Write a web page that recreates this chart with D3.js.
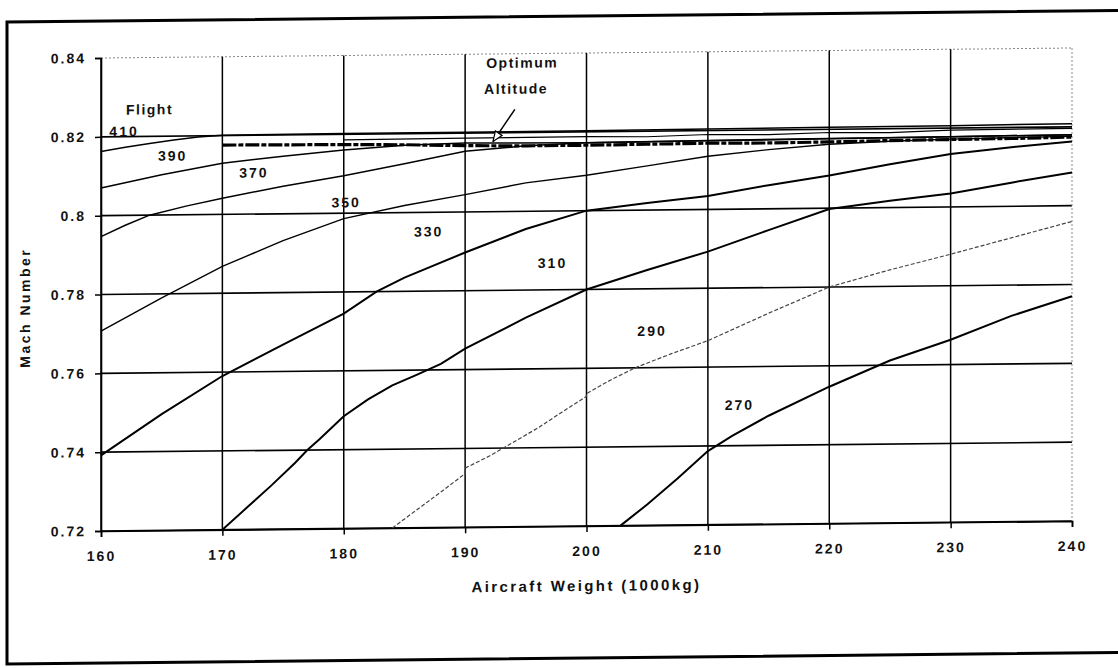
<!DOCTYPE html>
<html>
<head>
<meta charset="utf-8">
<script src="https://cdnjs.cloudflare.com/ajax/libs/d3/7.8.5/d3.min.js"></script>
<style>
  body { margin: 0; background: #fff; overflow: hidden; }
  text { font-family: "Liberation Sans", Arial, sans-serif; font-weight: bold; fill: #111; }
</style>
</head>
<body>
<div id="chart"></div>
<script>
// flight level curves, [aircraft weight (1000kg), mach]
var fl410 = [[160,0.8163],[162,0.8173],[164,0.8182],[166,0.819],[168,0.8197],[170,0.8201],[180,0.8202],[190,0.8202],[200,0.8203],[210,0.8204],[220,0.8205],[230,0.8206],[240,0.8208]];
var fl390 = [[160,0.807],[165,0.8102],[170,0.813],[175,0.8146],[180,0.816],[185,0.8171],[190,0.8175],[200,0.8172],[210,0.8174],[220,0.8176],[230,0.8178],[240,0.818]];
var fl370 = [[160,0.7947],[162,0.7975],[164,0.8],[167,0.8022],[170,0.8041],[175,0.807],[180,0.8095],[185,0.8124],[190,0.8154],[195,0.8166],[200,0.8172],[210,0.8175],[220,0.8177],[230,0.8178],[240,0.818]];
var fl350 = [[160,0.7707],[165,0.779],[170,0.7868],[175,0.7932],[180,0.7986],[185,0.8018],[190,0.8044],[195,0.8072],[200,0.809],[205,0.8112],[210,0.8135],[215,0.815],[220,0.8162],[225,0.8168],[230,0.8172],[240,0.8176]];
var fl330 = [[160,0.7392],[165,0.7495],[170,0.759],[175,0.7668],[180,0.7745],[182.7,0.78],[185,0.7835],[190,0.7897],[195,0.7955],[200,0.8],[205,0.8018],[210,0.8034],[215,0.806],[220,0.8083],[225,0.811],[230,0.8134],[235,0.815],[240,0.8163]];
var fl310 = [[170,0.72],[172,0.7255],[174,0.731],[176,0.7368],[177,0.74],[178,0.7427],[180,0.7485],[182,0.7527],[184,0.7562],[186,0.7588],[188,0.7615],[190,0.7653],[195,0.773],[200,0.78],[205,0.7848],[210,0.7893],[215,0.7946],[220,0.7998],[225,0.8017],[230,0.8034],[235,0.806],[240,0.8084]];
var fl290 = [[184,0.72],[186,0.7245],[188,0.729],[190,0.7336],[190,0.735],[192,0.738],[194,0.7415],[196,0.745],[198,0.749],[200,0.7529],[200,0.7536],[202,0.757],[204,0.76],[207,0.7635],[210,0.7667],[215,0.7735],[220,0.78],[225,0.7842],[230,0.788],[235,0.792],[240,0.796]];
var fl270 = [[202.8,0.72],[205,0.7253],[207.5,0.7318],[210,0.7387],[212,0.7425],[215,0.7475],[220,0.7547],[225,0.7612],[230,0.7663],[235,0.7722],[240,0.777]];

// optimum altitude band
var optimumAlt = [[170,0.8176],[175,0.8175],[180,0.8174],[185,0.8172],[190,0.8168],[195,0.8166],[200,0.8166],[205,0.8167],[210,0.8168],[215,0.8167],[220,0.8168],[225,0.817],[230,0.8171],[235,0.8172],[240,0.8174]];
var optimumUpper = [[180,0.8186],[190,0.8187],[200,0.8188],[205,0.8186],[210,0.819],[215,0.8188],[220,0.8192],[225,0.819],[230,0.8195],[240,0.8196]];

var xTicks = [160,170,180,190,200,210,220,230,240];
var yTicks = [0.72,0.74,0.76,0.78,0.80,0.82,0.84];
var yTickLabels = ["0.72","0.74","0.76","0.78","0.8","0.82","0.84"];

var levelNames = ["410","390","370","350","330","310","290","270"];
var levelLabelAt = [[161.9,0.8213],[165.9,0.815],[172.6,0.8105],[180.2,0.8027],[187,0.7951],[197.2,0.7868],[205.4,0.7693],[212.6,0.7503]];

var w = 1118, h = 668;
var svg = d3.select("#chart").append("svg")
    .attr("width", w)
    .attr("height", h)
    .style("display", "block");
svg.append("rect").attr("width", w).attr("height", h).attr("fill", "#fff");

// scanned page is slightly sheared
var shear = -0.0103;
var g = svg.append("g")
    .attr("transform", "translate(0," + (101 * -shear) + ") skewY(" + (Math.atan(shear) * 180 / Math.PI) + ")");

// outer frame (right side runs off the page)
g.append("path")
    .attr("d", "M1400,21 H7 V663 H1400")
    .attr("fill", "none")
    .attr("stroke", "#000")
    .attr("stroke-width", 3);

var x = d3.scaleLinear().domain([160, 240]).range([101, 1072]);
var y = d3.scaleLinear().domain([0.72, 0.84]).range([531, 58]);

// grid
g.selectAll(".hgrid").data(yTicks).enter().append("line")
    .attr("x1", x(160)).attr("x2", x(240))
    .attr("y1", function(d) { return y(d); })
    .attr("y2", function(d) { return y(d); })
    .attr("stroke", function(d) { return d > 0.83 ? "#888" : "#000"; })
    .attr("stroke-width", function(d) { return d > 0.83 ? 1 : 1.6; })
    .attr("stroke-dasharray", function(d) { return d > 0.83 ? "2,2" : null; });

g.selectAll(".vgrid").data(xTicks).enter().append("line")
    .attr("y1", y(0.84)).attr("y2", y(0.72))
    .attr("x1", function(d) { return x(d); })
    .attr("x2", function(d) { return x(d); })
    .attr("stroke", function(d) { return d == 240 ? "#888" : "#000"; })
    .attr("stroke-width", function(d) { return d == 240 ? 1 : 1.5; })
    .attr("stroke-dasharray", function(d) { return d == 240 ? "2,2" : null; });

// axes
var yAxis = d3.axisLeft(y).tickValues(yTicks)
    .tickFormat(function(d, i) { return yTickLabels[i]; })
    .tickSize(6).tickPadding(9);
var xAxis = d3.axisBottom(x).tickValues(xTicks).tickSize(6).tickPadding(14);

var ya = g.append("g").attr("transform", "translate(" + x(160) + ",0)").call(yAxis);
var xa = g.append("g").attr("transform", "translate(0," + y(0.72) + ")").call(xAxis);
[ya, xa].forEach(function(a) {
    a.select(".domain").attr("stroke", "#000").attr("stroke-width", 1.6);
    a.selectAll(".tick line").attr("stroke", "#000").attr("stroke-width", 1.5);
    a.selectAll("text")
        .attr("font-family", "Liberation Sans, Arial, sans-serif")
        .attr("font-size", "14px")
        .attr("font-weight", "bold")
        .attr("letter-spacing", "2px")
        .attr("fill", "#111");
});

// curves
var line = d3.line()
    .x(function(d) { return x(d[0]); })
    .y(function(d) { return y(d[1]); });

var curves = [fl410, fl390, fl370, fl350, fl330, fl310, fl290, fl270];
var curveWidth = [1.5, 1.5, 1.5, 1.4, 2, 2, 1.2, 2];

g.append("path").datum(optimumUpper)
    .attr("d", line).attr("fill", "none")
    .attr("stroke", "#000").attr("stroke-width", 1.2);

curves.forEach(function(c, i) {
    g.append("path").datum(c)
        .attr("d", line)
        .attr("fill", "none")
        .attr("stroke", levelNames[i] == "290" ? "#444" : "#000")
        .attr("stroke-width", curveWidth[i])
        .attr("stroke-dasharray", levelNames[i] == "290" ? "4,2" : null);
});

g.append("path").datum(optimumAlt)
    .attr("d", line).attr("fill", "none")
    .attr("stroke", "#000").attr("stroke-width", 3.2)
    .attr("stroke-dasharray", "14,2,5,2");

// curve labels
g.selectAll(".lvl").data(levelNames).enter().append("text")
    .text(function(d) { return d; })
    .attr("x", function(d, i) { return x(levelLabelAt[i][0]); })
    .attr("y", function(d, i) { return y(levelLabelAt[i][1]); })
    .attr("dy", "0.35em")
    .attr("text-anchor", "middle")
    .attr("font-size", "14px")
    .attr("letter-spacing", "2px");

g.append("text").text("Flight")
    .attr("x", x(164)).attr("y", y(0.8268)).attr("dy", "0.35em")
    .attr("text-anchor", "middle")
    .attr("font-size", "14px").attr("letter-spacing", "1.5px");

g.append("text").text("Optimum")
    .attr("x", x(194.7)).attr("y", y(0.8377)).attr("dy", "0.35em")
    .attr("text-anchor", "middle")
    .attr("font-size", "14px").attr("letter-spacing", "1.5px");
g.append("text").text("Altitude")
    .attr("x", x(194.2)).attr("y", y(0.8311)).attr("dy", "0.35em")
    .attr("text-anchor", "middle")
    .attr("font-size", "14px").attr("letter-spacing", "1.5px");

// arrow to the optimum altitude band
svg.append("defs").append("marker")
    .attr("id", "head")
    .attr("viewBox", "0 0 12 10")
    .attr("refX", 11).attr("refY", 5)
    .attr("markerWidth", 12).attr("markerHeight", 10)
    .attr("markerUnits", "userSpaceOnUse")
    .attr("orient", "auto")
    .append("path")
    .attr("d", "M1,1 L11,5 L1,9 Z")
    .attr("fill", "#fff")
    .attr("stroke", "#000")
    .attr("stroke-width", 1.2);

g.append("line")
    .attr("x1", x(194.1)).attr("y1", y(0.8259))
    .attr("x2", x(192.3)).attr("y2", y(0.8178))
    .attr("stroke", "#000").attr("stroke-width", 1.5)
    .attr("marker-end", "url(#head)");

// axis titles
g.append("text").text("Aircraft Weight (1000kg)")
    .attr("x", (x(160) + x(240)) / 2).attr("y", 596)
    .attr("text-anchor", "middle")
    .attr("font-size", "15px").attr("letter-spacing", "2.4px");

g.append("text").text("Mach Number")
    .attr("transform", "translate(30,307) rotate(-90)")
    .attr("text-anchor", "middle")
    .attr("font-size", "14px").attr("letter-spacing", "2.5px");
</script>
</body>
</html>
